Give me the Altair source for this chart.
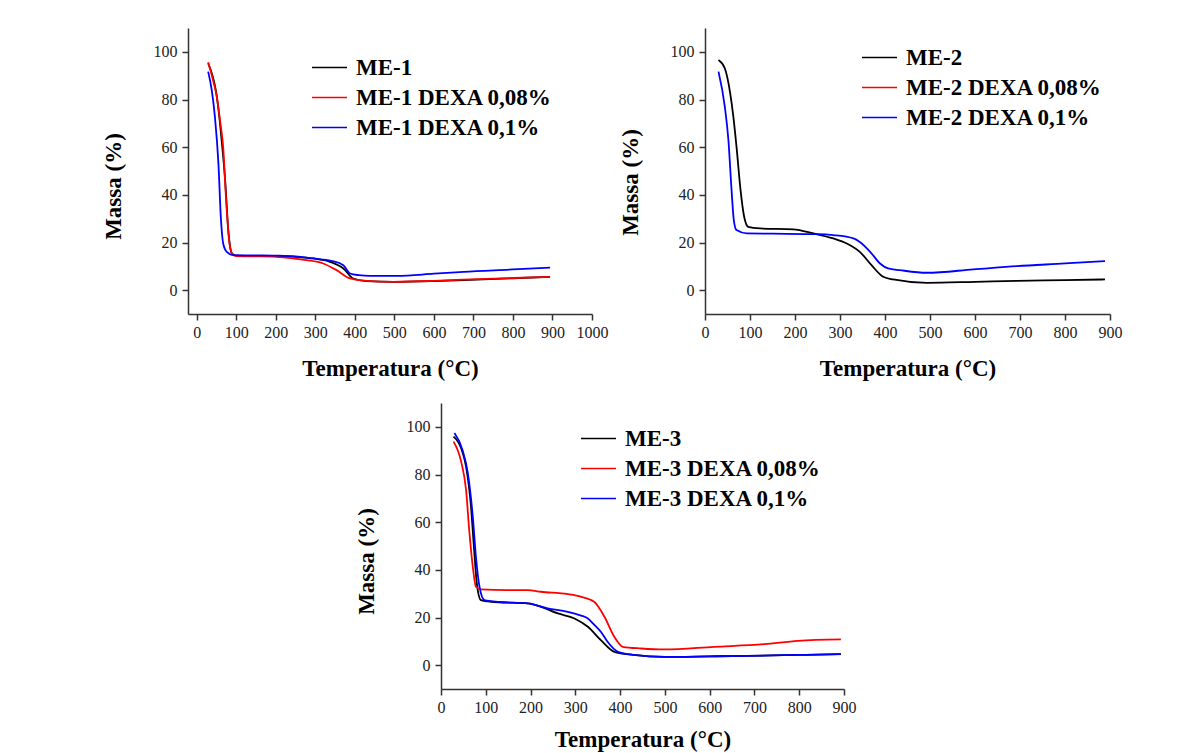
import altair as alt
import pandas as pd

# ---------------- data ----------------
names1 = ["ME-1", "ME-1 DEXA 0,08%", "ME-1 DEXA 0,1%"]
names2 = ["ME-2", "ME-2 DEXA 0,08%", "ME-2 DEXA 0,1%"]
names3 = ["ME-3", "ME-3 DEXA 0,08%", "ME-3 DEXA 0,1%"]
colors = ["#000000", "#ff0000", "#0000ff"]

me1_T = [29, 40, 49, 57, 63, 72, 80, 89, 100, 150, 194, 250, 295, 337, 371, 396, 430, 498, 600, 675, 800, 894]
me1_M = [95.2, 90, 83.3, 73, 63, 46, 25, 15.4, 14.5, 14.4, 14.3, 14.0, 13.3, 11.9, 9.1, 4.9, 3.8, 3.5, 3.8, 4.2, 5.0, 5.6]
me1d08_T = [29, 40, 51, 60, 67, 74, 83, 91, 100, 150, 194, 240, 278, 320, 354, 388, 430, 498, 600, 675, 800, 894]
me1d08_M = [95.6, 89, 81, 70, 60, 39, 19.6, 15, 14.3, 14.2, 14.1, 13.4, 12.6, 11.2, 8.4, 4.9, 3.9, 3.5, 3.9, 4.4, 5.1, 5.6]
me1d1_T = [29, 38, 46, 55, 61, 67, 76, 93, 150, 200, 250, 295, 340, 371, 388, 410, 439, 506, 600, 675, 800, 894]
me1d1_M = [91.7, 84, 72.8, 53, 30.8, 19.6, 16.1, 14.7, 14.6, 14.5, 14.2, 13.3, 12.3, 10.5, 7.0, 6.3, 6.0, 6.0, 6.9, 7.7, 8.7, 9.5]

me2_T = [30, 44, 56, 63, 70, 79, 87, 96, 122, 196, 241, 285, 315, 344, 370, 396, 418, 493, 600, 693, 800, 889]
me2_M = [96.6, 93.1, 82.6, 72.8, 60.2, 42, 30.8, 26.6, 25.9, 25.5, 23.8, 21.7, 19.6, 16.1, 10.5, 5.6, 4.5, 3.1, 3.5, 3.9, 4.2, 4.5]
me2d1_T = [30, 44, 52, 59, 64, 70, 93, 150, 250, 285, 330, 344, 367, 389, 407, 433, 493, 596, 693, 800, 889]
me2d1_M = [91.7, 77, 63, 42, 29.4, 25.2, 23.8, 23.7, 23.5, 23.1, 21.7, 20.2, 16.1, 11.2, 9.1, 8.4, 7.3, 8.7, 10.1, 11.2, 12.2]

me3_T = [28, 45, 56, 67, 74, 80, 89, 112, 194, 223, 261, 298, 328, 357, 387, 430, 499, 600, 685, 800, 893]
me3_M = [95.9, 91, 83.3, 66.5, 48.3, 34.3, 27.3, 26.6, 25.9, 24.5, 21.7, 19.6, 16.1, 10.5, 5.6, 4.3, 3.5, 3.7, 3.9, 4.3, 4.6]
me3d08_T = [28, 45, 56, 63, 71, 78, 89, 149, 194, 223, 283, 313, 342, 365, 387, 406, 447, 499, 610, 722, 797, 893]
me3d08_M = [93.8, 85.4, 73.5, 56.7, 41.3, 32.9, 31.8, 31.5, 31.5, 30.8, 29.8, 28.7, 26.6, 20.3, 11.9, 7.7, 7.0, 6.6, 7.7, 8.8, 10.2, 10.8]
me3d1_T = [30, 48, 60, 71, 78, 86, 97, 130, 194, 238, 283, 313, 328, 342, 357, 372, 395, 430, 499, 600, 685, 800, 893]
me3d1_M = [97.4, 90.3, 80.5, 62.3, 45.5, 32.9, 27.3, 26.5, 25.9, 23.8, 22.4, 20.8, 19.6, 17.0, 14.0, 9.8, 5.6, 4.3, 3.5, 3.7, 3.9, 4.3, 4.6]

x_ticks1 = [0, 100, 200, 300, 400, 500, 600, 700, 800, 900, 1000]
x_ticks23 = [0, 100, 200, 300, 400, 500, 600, 700, 800, 900]
y_ticks = [0, 20, 40, 60, 80, 100]


def frame(series):
    rows = []
    for name, ts, ms in series:
        for t, m in zip(ts, ms):
            rows.append({"serie": name, "T": t, "M": m})
    return pd.DataFrame(rows)


SERIF = "Liberation Serif"


def panel(df, names, xdomain, xticks, width, lx, ly, title_y, xtitle_y=61):
    return (
        alt.Chart(df)
        .mark_line(strokeWidth=1.8, interpolate="monotone")
        .encode(
            x=alt.X(
                "T:Q",
                scale=alt.Scale(domain=xdomain, nice=False, zero=False),
                axis=alt.Axis(values=xticks, format="d", labelOverlap=False, labelFlush=False,
                              title="Temperatura (°C)", titleY=xtitle_y,
                              titleBaseline="alphabetic", labelPadding=4),
            ),
            y=alt.Y(
                "M:Q",
                scale=alt.Scale(domain=[-10, 110], nice=False, zero=False),
                axis=alt.Axis(values=y_ticks, format="d", labelOverlap=False, labelFlush=False,
                              title="Massa (%)", titleX=-75, titleY=title_y,
                              titleAngle=270, titleBaseline="middle", titleAlign="center",
                              labelPadding=5),
            ),
            color=alt.Color(
                "serie:N",
                scale=alt.Scale(domain=names, range=colors),
                legend=alt.Legend(
                    title=None, orient="none", legendX=lx, legendY=ly,
                    symbolType="M-3.5,0H3.5", symbolSize=100, symbolStrokeWidth=1.6,
                    labelFont=SERIF, labelFontWeight="bold", labelFontSize=23,
                    labelColor="#000000", labelOffset=15, rowPadding=6, padding=0,
                    labelLimit=400,
                ),
            ),
        )
        .properties(width=width, height=286)
    )


df1 = frame([(names1[0], me1_T, me1_M), (names1[1], me1d08_T, me1d08_M), (names1[2], me1d1_T, me1d1_M)])
df2 = frame([(names2[0], me2_T, me2_M), (names2[2], me2d1_T, me2d1_M)])
df3 = frame([(names3[0], me3_T, me3_M), (names3[1], me3d08_T, me3d08_M), (names3[2], me3d1_T, me3d1_M)])

p1 = panel(df1, names1, [-22, 1000], x_ticks1, 404, 130, 28, 158)
p2 = panel(df2, names2, [0, 900], x_ticks23, 405, 163, 18, 154)
p3 = panel(df3, names3, [0, 900], x_ticks23, 403, 146, 24, 158, xtitle_y=57)

spacer = (
    alt.Chart(pd.DataFrame({"s": [0]}))
    .mark_point(opacity=0, size=0)
    .encode(x=alt.X("s:Q", axis=None), y=alt.Y("s:Q", axis=None))
    .properties(width=155, height=10)
)

top = alt.hconcat(p1, p2, spacing=11).resolve_scale(color="independent").resolve_legend(color="independent")
bottom = alt.hconcat(spacer, p3, spacing=12).resolve_scale(color="independent").resolve_legend(color="independent")

chart = (
    alt.vconcat(top, bottom, spacing=23)
    .resolve_scale(color="independent")
    .resolve_legend(color="independent")
    .properties(padding={"left": 102, "top": 28, "right": 5, "bottom": 5}, background="#ffffff")
    .configure_view(stroke=None)
    .configure_axis(
        grid=False,
        domainColor="#333333", domainWidth=1.5,
        tickColor="#333333", tickWidth=1.5, tickSize=6,
        labelFont=SERIF, labelFontSize=16, labelColor="#222222",
        titleFont=SERIF, titleFontSize=23, titleFontWeight="bold", titleColor="#000000",
    )
)

chart.save("out.html", embed_options={"renderer": "svg", "actions": False})
